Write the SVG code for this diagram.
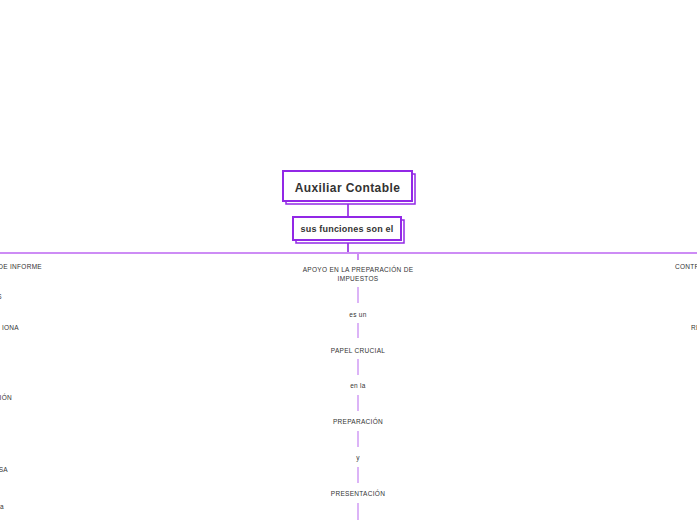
<svg xmlns="http://www.w3.org/2000/svg" width="697" height="520" viewBox="0 0 697 520">
<style>
.box{fill:#ffffff;stroke:#9228e6;stroke-width:2}
.shadow{fill:#ffffff;stroke:#9228e6;stroke-width:1.5}
.title{font-family:"Liberation Sans",Arial,sans-serif;font-weight:bold;fill:#333333}
.sm{font-family:"Liberation Sans",Arial,sans-serif;font-size:6.5px;fill:#333333;letter-spacing:0.3px}
.l1{stroke:#a64ee8;stroke-width:2;fill:none}
.l2{stroke:#cd8cf5;stroke-width:2;fill:none}
.l3{stroke:#dcb4f7;stroke-width:2;fill:none}
</style>
<rect width="697" height="520" fill="#ffffff"/>
<g id="connectors">
<path class="l1" d="M348 201V217"/>
<path class="l1" d="M348 240V252"/>
<path class="l2" d="M0 253H697"/>
<path class="l2" d="M358 253V260"/>
<path class="l3" d="M358 287V303M358 323V338M358 359V375M358 395V411M358 431V447M358 467V483M358 503V520"/>
</g>
<g id="n-main">
<rect class="shadow" x="286" y="174" width="129" height="30"/>
<rect class="box" x="283" y="171" width="129" height="30"/>
<text class="title" x="347.5" y="191.5" font-size="12" text-anchor="middle" letter-spacing="0.4">Auxiliar Contable</text>
</g>
<g id="n-funciones">
<rect class="shadow" x="296" y="220" width="108" height="23"/>
<rect class="box" x="293" y="217" width="108" height="23"/>
<text class="title" x="347" y="232" font-size="9" text-anchor="middle" letter-spacing="0.2">sus funciones son el</text>
</g>
<g id="n-apoyo"><text class="sm" x="358" y="272" text-anchor="middle">APOYO EN LA PREPARACIÓN DE</text><text class="sm" x="358" y="281" text-anchor="middle">IMPUESTOS</text></g>
<g id="n-esun"><text class="sm" x="358" y="317" text-anchor="middle">es un</text></g>
<g id="n-papel"><text class="sm" x="358" y="353" text-anchor="middle">PAPEL CRUCIAL</text></g>
<g id="n-enla"><text class="sm" x="358" y="388" text-anchor="middle">en la</text></g>
<g id="n-prep"><text class="sm" x="358" y="424" text-anchor="middle">PREPARACIÓN</text></g>
<g id="n-y"><text class="sm" x="358" y="460" text-anchor="middle">y</text></g>
<g id="n-pres"><text class="sm" x="358" y="496" text-anchor="middle">PRESENTACIÓN</text></g>
<g id="n-left">
<text class="sm" x="42" y="269" text-anchor="end">DE INFORME</text>
<text class="sm" x="2" y="299" text-anchor="end">S</text>
<text class="sm" x="19" y="330" text-anchor="end">IONA</text>
<text class="sm" x="12" y="400" text-anchor="end">CIÓN</text>
<text class="sm" x="8" y="472" text-anchor="end">SA</text>
<text class="sm" x="4" y="509" text-anchor="end">a</text>
</g>
<g id="n-right">
<text class="sm" x="675" y="269">CONTROL</text>
<text class="sm" x="691" y="330">RE</text>
</g>
</svg>
